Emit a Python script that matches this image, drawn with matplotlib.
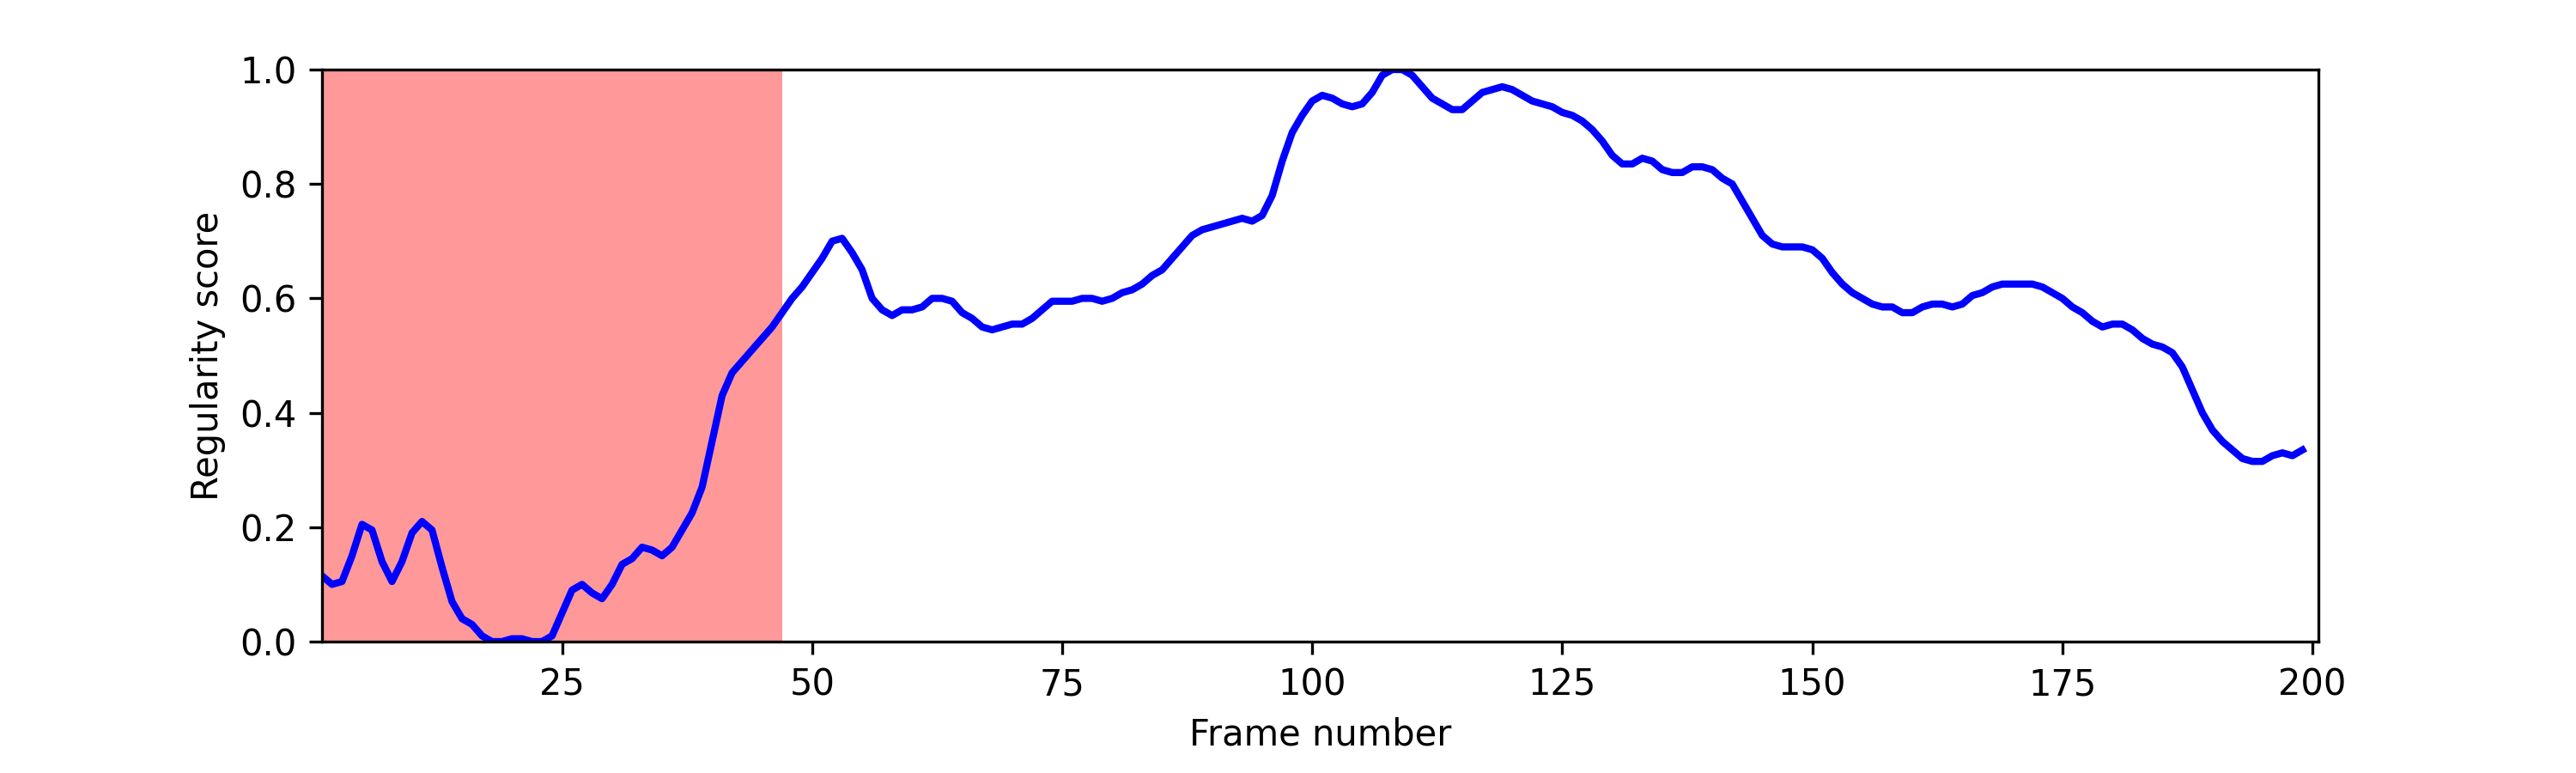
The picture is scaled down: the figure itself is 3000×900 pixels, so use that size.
import numpy as np
import matplotlib.pyplot as plt

# regularity score per frame
scores = [
    0.115, 0.10, 0.105, 0.15, 0.205, 0.195, 0.14, 0.105, 0.14, 0.19,
    0.21, 0.195, 0.13, 0.07, 0.04, 0.03, 0.01, 0.0, 0.0, 0.005,
    0.005, 0.0, 0.0, 0.01, 0.05, 0.09, 0.10, 0.085, 0.075, 0.10,
    0.135, 0.145, 0.165, 0.16, 0.15, 0.165, 0.195, 0.225, 0.27, 0.35,
    0.43, 0.47, 0.49, 0.51, 0.53, 0.55, 0.575, 0.60, 0.62, 0.645,
    0.67, 0.70, 0.705, 0.68, 0.65, 0.60, 0.58, 0.57, 0.58, 0.58,
    0.585, 0.60, 0.60, 0.595, 0.575, 0.565, 0.55, 0.545, 0.55, 0.555,
    0.555, 0.565, 0.58, 0.595, 0.595, 0.595, 0.60, 0.60, 0.595, 0.60,
    0.61, 0.615, 0.625, 0.64, 0.65, 0.67, 0.69, 0.71, 0.72, 0.725,
    0.73, 0.735, 0.74, 0.735, 0.745, 0.78, 0.84, 0.89, 0.92, 0.945,
    0.955, 0.95, 0.94, 0.935, 0.94, 0.96, 0.99, 1.0, 1.0, 0.99,
    0.97, 0.95, 0.94, 0.93, 0.93, 0.945, 0.96, 0.965, 0.97, 0.965,
    0.955, 0.945, 0.94, 0.935, 0.925, 0.92, 0.91, 0.895, 0.875, 0.85,
    0.835, 0.835, 0.845, 0.84, 0.825, 0.82, 0.82, 0.83, 0.83, 0.825,
    0.81, 0.80, 0.77, 0.74, 0.71, 0.695, 0.69, 0.69, 0.69, 0.685,
    0.67, 0.645, 0.625, 0.61, 0.60, 0.59, 0.585, 0.585, 0.575, 0.575,
    0.585, 0.59, 0.59, 0.585, 0.59, 0.605, 0.61, 0.62, 0.625, 0.625,
    0.625, 0.625, 0.62, 0.61, 0.60, 0.585, 0.575, 0.56, 0.55, 0.555,
    0.555, 0.545, 0.53, 0.52, 0.515, 0.505, 0.48, 0.44, 0.40, 0.37,
    0.35, 0.335, 0.32, 0.315, 0.315, 0.325, 0.33, 0.325, 0.335,
]
frames = np.arange(1, len(scores) + 1)

# anomalous segment (highlighted)
anomaly_start, anomaly_end = 1, 47

fig = plt.figure(figsize=(10, 3))
ax = fig.add_subplot(111)
fig.subplots_adjust(left=0.125, right=0.9, top=0.91, bottom=0.17)
ax.axvspan(anomaly_start, anomaly_end, color='red', alpha=0.4, lw=0)
ax.plot(frames, scores, color='blue', lw=2)
ax.set_xlim(1, 200.6)
ax.set_ylim(0, 1)
ax.set_xticks([25, 50, 75, 100, 125, 150, 175, 200])
ax.set_xlabel('Frame number')
ax.set_ylabel('Regularity score')
plt.savefig('out.png', dpi=300)
